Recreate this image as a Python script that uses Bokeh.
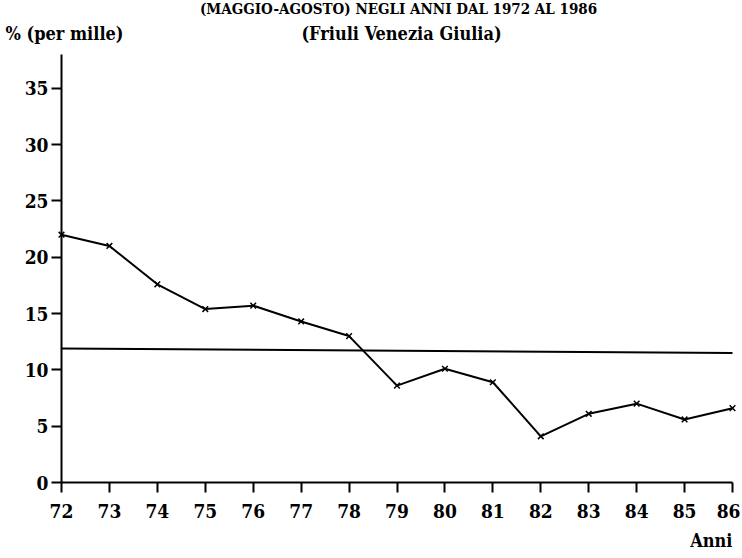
from bokeh.plotting import figure
from bokeh.models import Range1d, FixedTicker, LinearAxis
from bokeh.core.properties import value
from bokeh.embed import file_html
from bokeh.resources import INLINE

# ---- data ----
years = [72, 73, 74, 75, 76, 77, 78, 79, 80, 81, 82, 83, 84, 85, 86]
values = [22.0, 21.0, 17.6, 15.4, 15.7, 14.3, 13.0, 8.6, 10.1, 8.9, 4.1, 6.1, 7.0, 5.6, 6.6]
ref_x = [72, 86]
ref_y = [11.9, 11.5]
y_ticks = [0, 5, 10, 15, 20, 25, 30, 35]
y_top = 38
title1 = "(MAGGIO-AGOSTO) NEGLI ANNI DAL 1972 AL 1986"
title2 = "(Friuli Venezia Giulia)"
ylab = "% (per mille)"
xlab = "Anni"

FONT = "'DejaVu Serif Condensed', 'Liberation Serif', serif"

# ---- layout (pixels) ----
W, H = 740, 556
AX_L, AX_R = 61, 732      # x pixel of first / last year
AX_B, AX_T = 482, 54      # y pixel of 0 / y_top

sx = (years[-1] - years[0]) / (AX_R - AX_L)
sy = y_top / (AX_B - AX_T)
def X(px):
    return years[0] + (px - AX_L) * sx
def Y(py):
    return (AX_B - py) * sy

p = figure(width=W, height=H, output_backend="svg", toolbar_location=None,
           x_range=Range1d(X(0), X(W)), y_range=Range1d(Y(H), Y(0)),
           x_axis_type=None, y_axis_type=None,
           min_border=0, min_border_left=0, min_border_right=0,
           min_border_top=0, min_border_bottom=0)
p.outline_line_color = None
p.grid.visible = False

xa = LinearAxis(ticker=FixedTicker(ticks=years), fixed_location=0,
                bounds=(years[0], years[-1]))
ya = LinearAxis(ticker=FixedTicker(ticks=y_ticks), fixed_location=years[0],
                bounds=(0, y_top))
for ax in (xa, ya):
    ax.axis_line_color = "black"
    ax.axis_line_width = 2
    ax.major_tick_line_color = "black"
    ax.major_tick_line_width = 2
    ax.minor_tick_line_color = None
    ax.major_tick_in = 0
    ax.major_tick_out = 10
    ax.major_label_text_font = FONT
    ax.major_label_text_font_style = "bold"
    ax.major_label_text_color = "black"
    ax.major_label_text_font_size = "19px"
xa.major_label_standoff = 11
ya.major_label_standoff = 3
p.add_layout(xa, "below")
p.add_layout(ya, "left")

p.line(ref_x, ref_y, line_color="black", line_width=2)
p.line(years, values, line_color="black", line_width=2)
p.scatter(years, values, marker="x", size=8, line_color="black", line_width=1.5)

def txt(t, px, py, align, size):
    p.text(x=[X(px)], y=[Y(py)], text=[t], text_align=align, text_baseline="middle",
           text_font=value(FONT), text_font_size=size, text_font_style="bold",
           text_color="black")

txt(title1, 398, 8, "center", "15px")
txt(title2, 401, 33, "center", "18px")
txt(ylab, 5, 33, "left", "18px")
txt(xlab, 732, 540, "right", "18px")

open("out.html", "w").write(file_html(p, INLINE))
